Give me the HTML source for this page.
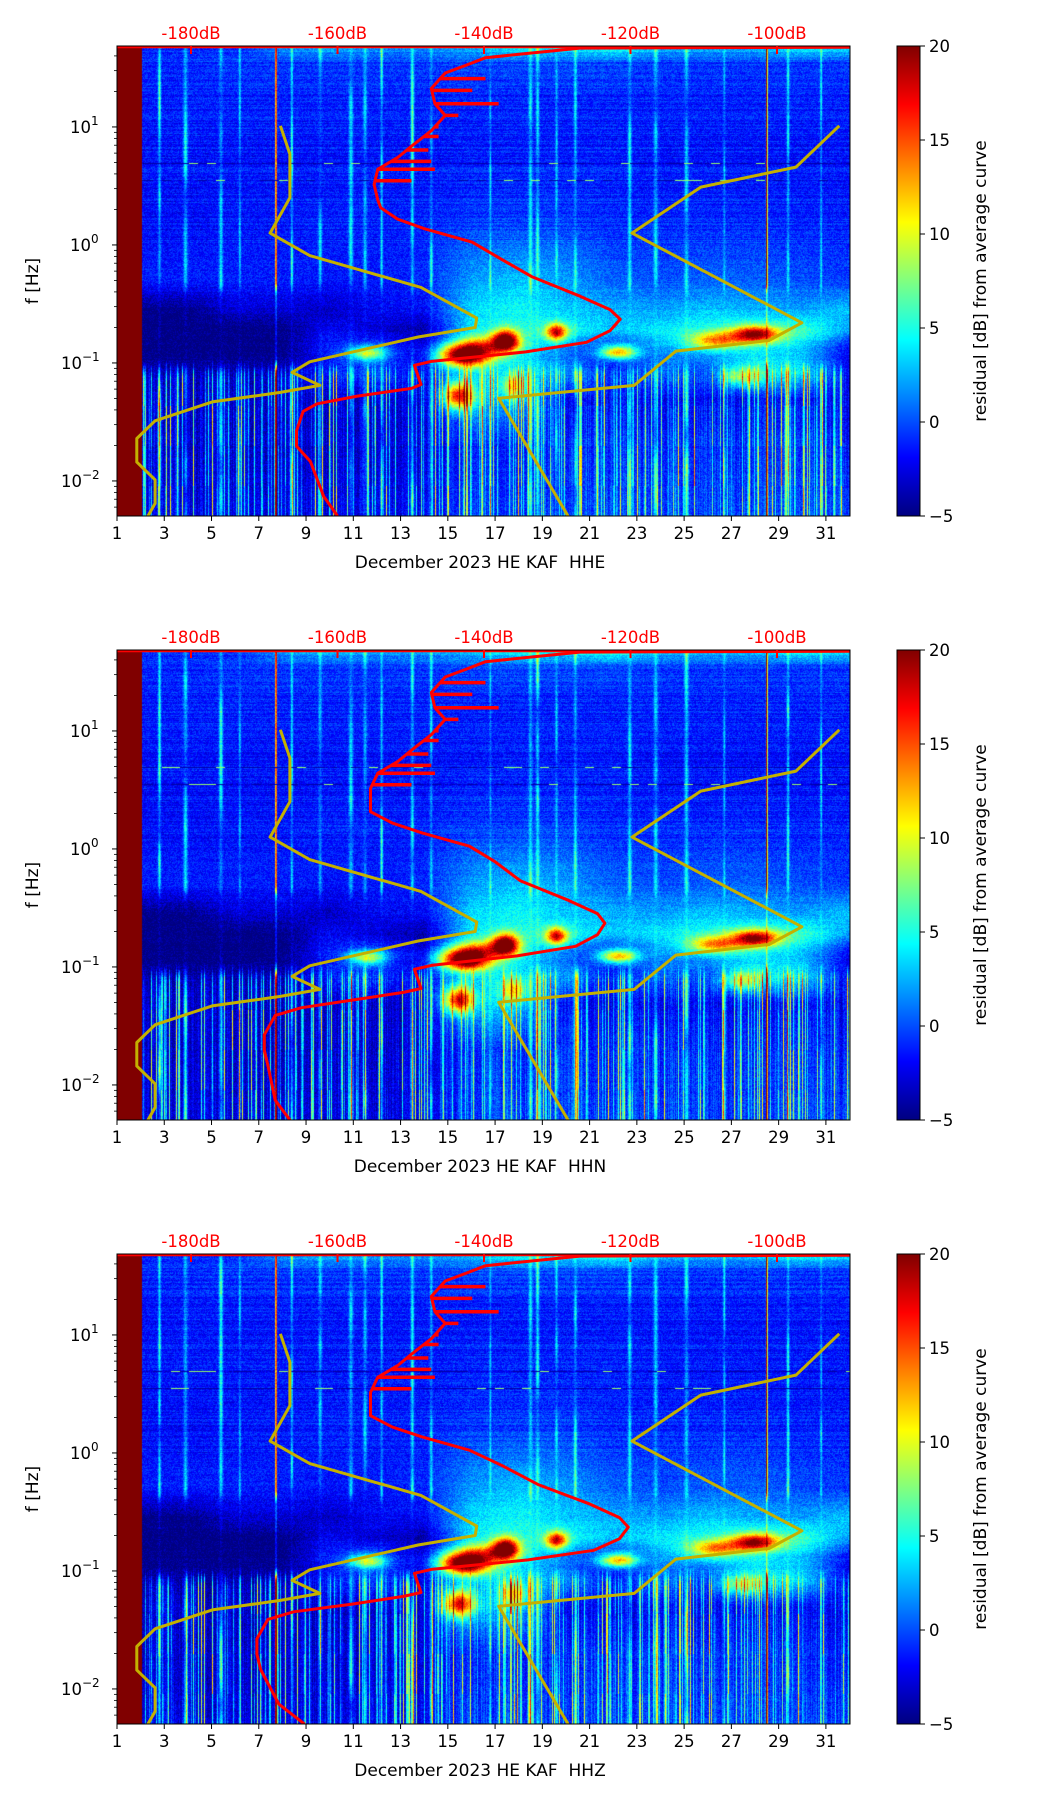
<!DOCTYPE html>
<html><head><meta charset="utf-8"><title>KAF residual spectrograms</title>
<style>
html,body{margin:0;padding:0;background:#fff;}
#wrap{position:relative;width:1052px;height:1806px;overflow:hidden;font-family:"DejaVu Sans","Liberation Sans",sans-serif;}
canvas{position:absolute;}
svg{position:absolute;left:0;top:0;}
</style></head>
<body>
<div id="wrap">
<canvas id="c0" width="733" height="470" style="left:117px;top:46px"></canvas>
<canvas id="c1" width="733" height="470" style="left:117px;top:650px"></canvas>
<canvas id="c2" width="733" height="470" style="left:117px;top:1254px"></canvas>
<svg id="ov" width="1052" height="1806" xmlns="http://www.w3.org/2000/svg"></svg>
</div>
<script>
// ---- data ----
const gridDays=[2,4,6,8,10,12,14,16,18,20,22,24,26,28,30,32];
const gridLogF=[1.68,1.55,1.2,0.7,0.2,-0.3,-0.55,-0.72,-0.88,-1.08,-1.3,-1.7,-2.2];
const gridVals=[
[-1,-1,-1,2,3,2,2,3,5,4,6,3,3,3,5,4],
[-1,-1,-0.5,-0.5,-0.5,-0.5,-0.5,0,0,0,0,-0.5,-0.5,-0.5,-0.5,-0.5],
[-1.5,-1.2,-1.2,-1.2,-1.2,-1.2,-1.2,-1.2,-1.2,-1.2,-1.2,-1.2,-1.2,-1.2,-1.2,-1.2],
[-1.5,-1.5,-1.5,-1.5,-1.5,-1.5,-1.5,-1.2,-1.2,-1.2,-1.2,-1.5,-1.5,-1.5,-1.5,-1.5],
[-1.8,-1.8,-1.5,-1.5,-1.2,-1.2,-1.2,-0.5,-0.5,-0.5,-1,-1,-1,-1,-1.2,-1.2],
[-1.2,-1.2,-1.2,-1.2,-1.5,-1.5,-1,2,3,2,0.5,0,0.5,0.5,0,-0.5],
[-5,-5,-3,-3,-3.5,-2,-2,3.5,4.5,3,2.5,2,3,2.5,2,3],
[-5,-5,-5,-5,-2,-3,-4,4,5,5,3,4,5,6,6,2],
[-5,-5,-5,-5,-1,0,-3,4,4,1,-2,2,3,4,3,-2],
[-4.5,-4.5,-4.5,-4,-2,-1,-3,2,3,1,-2,0,-1,4,3,-3],
[-4,-4,-4,-4,-4,-4,-3.5,2,2,-3,-3,-3,-3,-3,-3,-3],
[-4,-4,-4,-4,-4,-4,-3.5,-2,-2,-2,-2,-2,-2,-2,-2,-2.5],
[-3.5,-3.5,-3.5,-3.5,-3.5,-3.5,-3,-1.5,-1.5,-1.5,-1.5,-1.5,-1.5,-1.5,-1.5,-1.5]
];
const blobDay=[15.7,17.45,19.6,15.45,22.2,28.0,26.3,11.6,27.4,17.8,16.5];
const blobLogF=[-0.94,-0.81,-0.74,-1.28,-0.91,-0.76,-0.81,-0.92,-1.12,-1.2,-0.85];
const blobAmp=[21,18,14,16,14,15,10,10,6,8,8];
const blobWDay=[1.1,0.55,0.45,0.6,0.8,1.0,1.1,0.8,0.8,0.5,1.3];
const blobWLogF=[0.09,0.09,0.07,0.11,0.06,0.07,0.07,0.06,0.08,0.1,0.08];
const streakDays=[2.8,3.9,5.4,6.2,7.73,8.4,9.6,10.9,11.5,12.2,13.5,14.3,16.8,18.5,18.8,19.6,20.4,22.7,23.8,25.1,26.7,28.5,29.4,30.8];
const streakStrength=[8,6,7,5,25,8,5,6,5,7,8,6,5,6,7,5,6,6,5,6,5,25,7,6];
const humLogF=[0.69,0.545];
const redLogF=[1.675,1.668,1.587,1.522,1.457,1.326,1.197,1.098,0.968,0.837,0.740,0.642,0.512,0.381,0.316,0.219,0.137,0.023,-0.108,-0.271,-0.434,-0.548,-0.629,-0.727,-0.825,-0.906,-0.987,-1.020,-1.183,-1.216,-1.281,-1.346,-1.411,-1.575,-1.705,-1.835,-2.129,-2.297];
const redDbHHE=[-90.1,-126.9,-139.8,-142.5,-145.3,-147.2,-146.7,-145.3,-147.2,-149.9,-151.8,-154.5,-155.0,-154.5,-154.1,-151.8,-148.1,-141.6,-138.0,-133.4,-126.9,-122.8,-121.4,-122.8,-126.0,-134.3,-147.2,-149.5,-148.6,-149.9,-157.3,-162.8,-164.7,-165.6,-165.6,-163.7,-161.9,-160.0];
const redDbHHN=[-90.1,-126.9,-139.8,-142.5,-145.3,-147.2,-146.7,-145.3,-147.2,-149.9,-151.8,-154.5,-155.5,-155.5,-155.5,-152.5,-148.5,-142,-138.5,-135,-128.5,-124.5,-123.5,-124.5,-127.5,-135.5,-147.2,-149.5,-148.6,-151,-158,-165,-168.5,-170,-170,-169.5,-168.5,-166.5];
const redDbHHZ=[-90.1,-126.9,-139.8,-142.5,-145.3,-147.2,-146.7,-145.3,-147.2,-149.9,-151.8,-154.5,-155.5,-155.5,-155.5,-152.5,-148.5,-142,-137.5,-132.5,-125.5,-121.5,-120.3,-121.5,-125,-134,-147.2,-149.5,-148.6,-151,-158,-166,-169.5,-171,-171,-170.5,-168,-164.5];
const spikeLogF=[1.409,1.310,1.197,1.098,1.001,0.919,0.805,0.708,0.642,0.544];
const spikeDb=[-139.8,-141.6,-138.0,-143.5,-146.2,-146.2,-147.6,-147.2,-146.7,-149.9];
const nlnmLogF=[1.01,0.77,0.40,0.10,-0.09,-0.36,-0.62,-0.70,-0.78,-0.99,-1.08,-1.19,-1.25,-1.33,-1.49,-1.64,-1.84,-1.99,-2.19,-2.30];
const nlnmDb=[-167.8,-166.5,-166.5,-169.2,-163.8,-148.6,-141.0,-141.2,-149.0,-163.8,-166.2,-162.4,-167.8,-177.1,-184.9,-187.4,-187.4,-184.9,-184.9,-185.9];
const nhnmLogF=[1.01,0.66,0.49,0.10,-0.66,-0.81,-0.90,-1.19,-1.30,-2.30];
const nhnmDb=[-91.5,-97.4,-110.4,-119.8,-96.6,-101.1,-113.8,-119.5,-138.0,-128.5];
const xTicks=[1,3,5,7,9,11,13,15,17,19,21,23,25,27,29,31];
const yTicks=[1,0,-1,-2];
const dbTicks=[-180,-160,-140,-120,-100];
const cbTicks=[20,15,10,5,0,-5];
const channels=['HHE','HHN','HHZ'];
const panelTops=[46,650,1254];
const redSets=[redDbHHE,redDbHHN,redDbHHZ];

// ---- geometry ----
const PL=117,PW=733,PH=470,DAYPX=23.63,LOGTOP=1.686,DEC=118;
function xDay(d){return PL+(d-1)*DAYPX;}
function yF(top,lf){return top+(LOGTOP-lf)*DEC;}
function xDb(db){return 191+(db+180)*7.325;}
function cl(v){return v<0?0:v>1?1:v;}
function jet(t){t=cl(t);return [cl(1.5-Math.abs(4*t-3)),cl(1.5-Math.abs(4*t-2)),cl(1.5-Math.abs(4*t-1))];}
function hash(a,b){let h=(a*374761393+b*668265263)|0;h=(h^(h>>>13))*1274126177|0;h=h^(h>>>16);return ((h>>>0)%10000)/10000;}
function smooth(e0,e1,x){const t=cl((x-e0)/(e1-e0));return t*t*(3-2*t);}

// ---- heatmaps ----
function gridAt(day,lf){
  let ci=0;while(ci<gridDays.length-2&&day>gridDays[ci+1])ci++;
  let tx=cl((day-gridDays[ci])/(gridDays[ci+1]-gridDays[ci]));
  let ri=0;while(ri<gridLogF.length-2&&lf<gridLogF[ri+1])ri++;
  let ty=cl((gridLogF[ri]-lf)/(gridLogF[ri]-gridLogF[ri+1]));
  const a=gridVals[ri][ci],b=gridVals[ri][ci+1],c=gridVals[ri+1][ci],d=gridVals[ri+1][ci+1];
  return (a*(1-tx)+b*tx)*(1-ty)+(c*(1-tx)+d*tx)*ty;
}
function blobsAt(day,lf){
  let s=0;
  for(let k=0;k<blobDay.length;k++){
    const dx=(day-blobDay[k])/blobWDay[k],dy=(lf-blobLogF[k])/blobWLogF[k];
    const r=dx*dx+dy*dy;if(r<9)s+=blobAmp[k]*Math.exp(-r);
  }
  return s;
}
for(let p=0;p<3;p++){
  const cv=document.getElementById('c'+p),ctx=cv.getContext('2d');
  const img=ctx.createImageData(PW,PH);
  const sN=new Float32Array(PW),sId=new Int32Array(PW),cn=new Float32Array(PW);
  for(let x=0;x<PW;x++){
    const day=1+(x+0.5)/DAYPX;
    let best=0,bi=-1;
    for(let k=0;k<streakDays.length;k++){
      const dd=day-streakDays[k];
      const w=streakStrength[k]>20?0.03:(0.04+0.05*hash(k,77));
      const v=streakStrength[k]*Math.exp(-(dd/w)*(dd/w));
      if(v>best){best=v;bi=k;}
    }
    sN[x]=best;sId[x]=bi;
    const h=hash(x*7+p,13);
    cn[x]=h<0.22?4+hash(x,p+5)*12:hash(x,p+9)*3;
  }
  for(let y=0;y<PH;y++){
    const lf=LOGTOP-(y+0.5)/DEC;
    const rowN=(hash(y,p+101)-0.5)*(lf>0?1.4:0.5);
    const mid=smooth(-1.1,-0.95,lf)*(1-smooth(-0.45,-0.3,lf));
    const fN=1-0.8*mid;
    const low=1-smooth(-1.15,-0.95,lf);
    let hum=0;for(const h of humLogF){const dy=(lf-h)*DEC;if(Math.abs(dy)<0.5)hum=1;}
    for(let x=0;x<PW;x++){
      const day=1+(x+0.5)/DAYPX;
      let v;
      if(day<2.06)v=20;
      else{
        let m=1;
        if(sId[x]>=0&&streakStrength[sId[x]]<20){
          const seg=Math.floor(y/30);
          const a=hash(sId[x]*31+seg,p+3),b=hash(sId[x]*31+seg+1,p+3);
          const t=(y%30)/30;m=0.15+1.0*(a*(1-t)+b*t);
        }
        v=gridAt(day,lf)+blobsAt(day,lf)+fN*sN[x]*m*(1+0.4*low)+rowN+(hash(x+p*997,y)-0.5)*2.6;
        v+=low*cn[x]*(0.5+0.5*hash(x,Math.floor(y/40)+p*50));
        if(hum){const hh=hash(Math.floor(x/9),y+p);v=hh<0.15?8:(hh<0.5?-4:v-1.5);}
      }
      const i=(y*PW+x)*4;
      const cc=jet((v+5)/25);
      img.data[i]=cc[0]*255;img.data[i+1]=cc[1]*255;img.data[i+2]=cc[2]*255;img.data[i+3]=255;
    }
  }
  ctx.putImageData(img,0,0);
}

// ---- overlay ----
const NS='http://www.w3.org/2000/svg';
const ov=document.getElementById('ov');
function mk(tag,attrs,parent){const e=document.createElementNS(NS,tag);for(const k in attrs)e.setAttribute(k,attrs[k]);(parent||ov).appendChild(e);return e;}
function txt(s,attrs,parent){const e=mk('text',attrs,parent);e.textContent=s;return e;}

const defs=mk('defs',{});
const grad=mk('linearGradient',{id:'jetg',x1:0,y1:1,x2:0,y2:0},defs);
for(let i=0;i<=24;i++){const c=jet(i/24);mk('stop',{offset:(i/24),'stop-color':'rgb('+Math.round(c[0]*255)+','+Math.round(c[1]*255)+','+Math.round(c[2]*255)+')'},grad);}

for(let p=0;p<3;p++){
  const top=panelTops[p];
  const g=mk('g',{});
  
  
  const cp=mk('clipPath',{id:'clip'+p},defs);
  mk('rect',{x:PL,y:top,width:PW,height:PH},cp);
  const cg=mk('g',{'clip-path':'url(#clip'+p+')'},g);
  let d='';for(let i=0;i<nlnmLogF.length;i++)d+=(i?'L':'M')+xDb(nlnmDb[i]).toFixed(1)+','+yF(top,nlnmLogF[i]).toFixed(1);
  const l1=mk('path',{d:d,fill:'none',stroke:'#c4b000','stroke-width':3,'stroke-linejoin':'round'},cg);
  
  
  d='';for(let i=0;i<nhnmLogF.length;i++)d+=(i?'L':'M')+xDb(nhnmDb[i]).toFixed(1)+','+yF(top,nhnmLogF[i]).toFixed(1);
  const l2=mk('path',{d:d,fill:'none',stroke:'#c4b000','stroke-width':3,'stroke-linejoin':'round'},cg);
  
  
  const rd=redSets[p];
  d='';for(let i=0;i<redLogF.length;i++)d+=(i?'L':'M')+xDb(rd[i]).toFixed(1)+','+yF(top,redLogF[i]).toFixed(1);
  const rl=mk('path',{d:d,fill:'none',stroke:'#ff0000','stroke-width':3,'stroke-linejoin':'round'},cg);
  
  
  for(let k=0;k<spikeLogF.length;k++){
    let j=0;while(j<redLogF.length-2&&redLogF[j+1]>spikeLogF[k])j++;
    const t=(redLogF[j]-spikeLogF[k])/(redLogF[j]-redLogF[j+1]);
    const base=rd[j]+(rd[j+1]-rd[j])*t;
    const yy=yF(top,spikeLogF[k]);
    const sp=mk('line',{x1:xDb(base),y1:yy,x2:xDb(spikeDb[k]),y2:yy,stroke:'#ff0000','stroke-width':3.5},cg);
    
    
  }
  mk('line',{x1:PL,y1:top+1,x2:PL+PW,y2:top+1,stroke:'#ff0000','stroke-width':2.5},cg);
  mk('rect',{x:PL,y:top,width:PW,height:PH,fill:'none',stroke:'#000','stroke-width':1},g);
  for(const t of xTicks){
    const x=xDay(t);
    mk('line',{x1:x,y1:top+PH,x2:x,y2:top+PH+5,stroke:'#000'},g);
    const tl=txt(String(t),{x:x,y:top+PH+23,'font-size':16.5,'text-anchor':'middle'},g);
    
    
  }
  const xl=txt('December 2023 HE KAF\u00a0 '+channels[p],{x:480,y:top+PH+52,'font-size':17,'text-anchor':'middle'},g);
  
  
  for(const t of yTicks){
    const y=yF(top,t);
    mk('line',{x1:PL-5,y1:y,x2:PL,y2:y,stroke:'#000'},g);
    const tl=txt('10',{x:t<0?61:70,y:y+6,'font-size':16.5},g);
    const sup=mk('tspan',{'font-size':12,dy:-8},tl);sup.textContent=t<0?'\u2212'+(-t):String(t);
    
    
  }
  for(let dcd=-3;dcd<=1;dcd++)for(let k=2;k<=9;k++){
    const lf=dcd+Math.log10(k);if(lf<-2.297||lf>LOGTOP)continue;
    const y=yF(top,lf);mk('line',{x1:PL-3,y1:y,x2:PL,y2:y,stroke:'#000','stroke-width':0.8},g);
  }
  const yl=txt('f [Hz]',{x:0,y:0,'font-size':17,'text-anchor':'middle',transform:'translate(38,'+(top+PH/2)+') rotate(-90)'},g);
  
  
  for(const t of dbTicks){
    const x=xDb(t);
    mk('line',{x1:x,y1:top,x2:x,y2:top+8,stroke:'#ff0000','stroke-width':2},g);
    const tl=txt(t+'dB',{x:x,y:top-7,'font-size':16.5,'text-anchor':'middle',fill:'#ff0000'},g);
    
    
  }
  const cb=mk('rect',{x:897,y:top,width:23,height:PH,fill:'url(#jetg)',stroke:'#000','stroke-width':1},g);
  
  
  for(const t of cbTicks){
    const y=top+(20-t)/25*PH;
    mk('line',{x1:920,y1:y,x2:925,y2:y,stroke:'#000'},g);
    const tl=txt(t<0?'\u2212'+(-t):String(t),{x:929,y:y+6,'font-size':16.5},g);
    
    
  }
  const cl2=txt('residual [dB] from average curve',{x:0,y:0,'font-size':17,'text-anchor':'middle',transform:'translate(986,'+(top+PH/2)+') rotate(-90)'},g);
  
  
}
</script>
</body></html>
